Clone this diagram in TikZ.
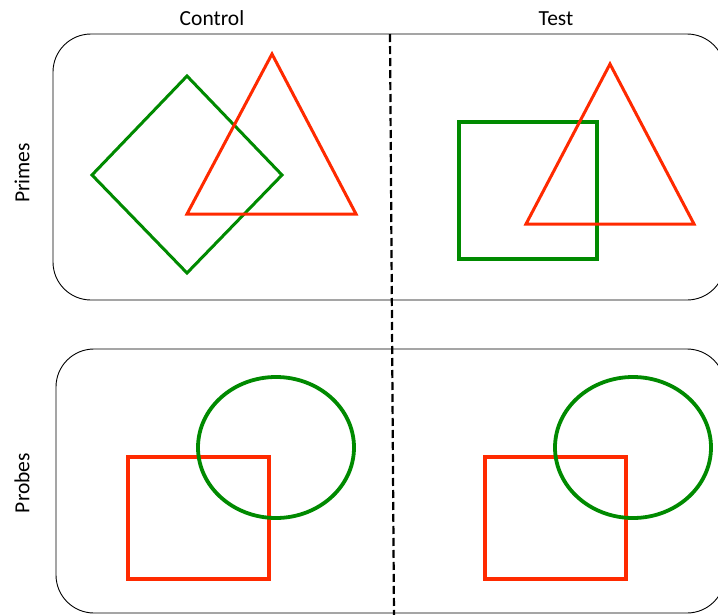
\documentclass[tikz,border=0pt]{standalone}
\usepackage{fontspec}
\setmainfont{Carlito}
\definecolor{shred}{RGB}{255,42,0}
\definecolor{shgreen}{RGB}{0,138,0}
\begin{document}
\begin{tikzpicture}[x=1pt,y=-1pt,
  panel/.style={draw=black,line width=0.9pt,rounded corners=38pt},
  redshape/.style={draw=shred,line width=3pt,line join=miter},
  greenshape/.style={draw=shgreen,line width=3pt,line join=miter},
  thick shape/.style={line width=3.8pt},
  divider/.style={draw=black,line width=2.2pt,dash pattern=on 8pt off 4pt},
  lbl/.style={font=\fontsize{21.5}{25}\selectfont,inner sep=0pt,anchor=center}]
\useasboundingbox (0,0) rectangle (718,614);
\clip (0,0) rectangle (718,614);
% panels
\draw[panel] (53,34) rectangle (725,300);
\draw[panel] (56,349) rectangle (725,613);
% divider
\coordinate (dtop) at (390,34);
\coordinate (dbot) at (394,616);
\draw[divider] (dtop) -- (dbot);
% labels
\node[lbl] (control) at (212,18) {Control};
\node[lbl] (test) at (556,19) {Test};
\node[lbl,rotate=90] (primes) at (22,173) {Primes};
\node[lbl,rotate=90] (probes) at (22,483) {Probes};
% primes control
\draw[greenshape] (187,76) -- (282,175) -- (187,273) -- (92,175) -- cycle;
\draw[redshape] (272,54) -- (356,214) -- (187,214) -- cycle;
% primes test
\draw[greenshape,line width=3.4pt] (459,122) rectangle (597,259);
\draw[redshape] (610,64) -- (694,224) -- (526,224) -- cycle;
% probes control
\draw[redshape,thick shape] (128,457) rectangle (269,579);
\draw[greenshape,thick shape] (276,447.5) ellipse [x radius=78, y radius=70.5];
% probes test
\draw[redshape,thick shape] (485,457) rectangle (626,579);
\draw[greenshape,thick shape] (633,447.5) ellipse [x radius=78, y radius=70.5];
\end{tikzpicture}
\end{document}
